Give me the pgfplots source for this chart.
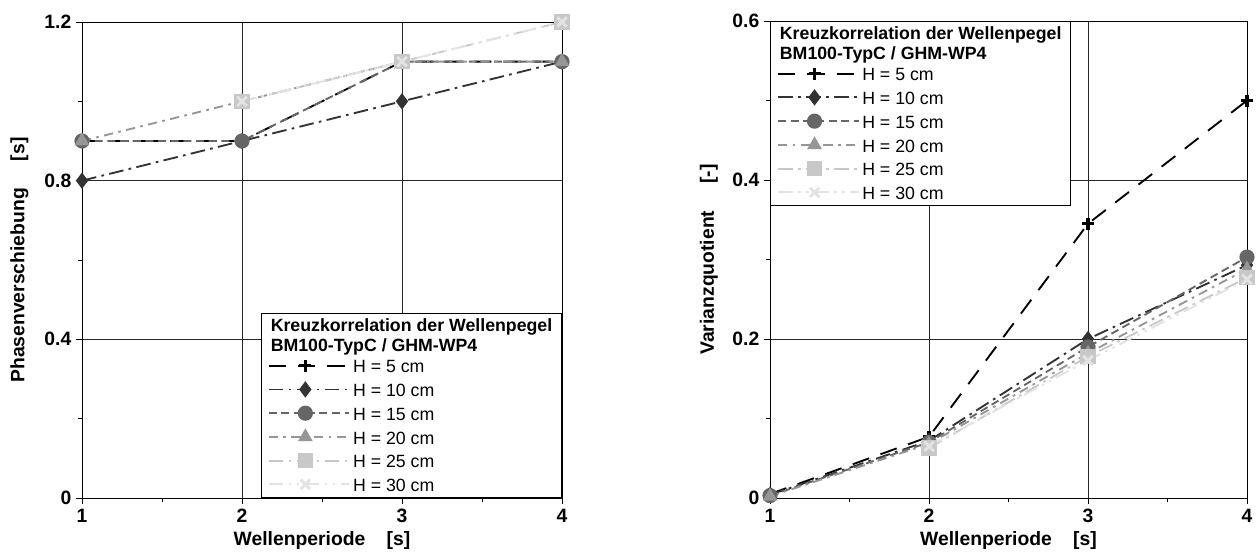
\documentclass[border=0pt]{standalone}
\usepackage{fontspec}
\setmainfont{Liberation Sans}
\usepackage{pgfplots}
\pgfplotsset{compat=1.18}
\definecolor{cA}{HTML}{000000}
\definecolor{cB}{HTML}{333333}
\definecolor{cC}{HTML}{666666}
\definecolor{cD}{HTML}{969696}
\definecolor{cE}{HTML}{C8C8C8}
\definecolor{cF}{HTML}{E3E3E3}
\newcommand\tickfont{\bfseries\fontsize{14.5}{17}\selectfont}
\newcommand\legfont{\fontsize{13.3}{16}\selectfont}
\pgfplotsset{
 myaxis/.style={
  scale only axis, anchor=south west, clip=false,
  xmin=1, xmax=4, xtick={1,2,3,4}, minor xtick={1.5,2.5,3.5},
  tick pos=left, tick align=outside,
  major tick length=4.5pt, minor tick length=3pt,
  every tick/.style={black, line width=0.6pt},
  axis line style={line width=0.6pt},
  xmajorgrids, ymajorgrids, major grid style={black!85, line width=0.6pt},
  /pgf/number format/assume math mode=true,
  ticklabel style={font=\tickfont},
  label style={font=\tickfont},
  xlabel={Wellenperiode\hspace{1.1em}[s]},
  legend cell align=left,
  legend image code/.code={\draw[mark repeat=2, mark phase=2] plot coordinates {(0pt,0pt) (27.4pt,0pt) (54.8pt,0pt)}; \path (0pt,0pt) -- (60.5pt,0pt);},
  legend style={font=\legfont, draw=black, line width=0.6pt, fill=white, inner xsep=5pt, inner ysep=1pt, row sep=0pt, nodes={inner sep=2pt, text height=12.3pt, text depth=1.5pt}},
 },
 s5/.style={color=cA, line width=1.4pt, dash pattern=on 13pt off 9pt, mark=+, mark size=4.5pt, mark options={solid, line width=2.4pt}},
 s10/.style={color=cB, line width=1.4pt, dash pattern=on 11pt off 4pt on 2pt off 4pt, mark=diamond*, mark size=5pt, mark options={solid, fill=cB}},
 s15/.style={color=cC, line width=1.4pt, dash pattern=on 6pt off 3.5pt, mark=*, mark size=5pt, mark options={solid, fill=cC}},
 s20/.style={color=cD, line width=1.4pt, dash pattern=on 7pt off 4pt on 2pt off 4pt, mark=triangle*, mark size=5pt, mark options={solid, fill=cD}},
 s25/.style={color=cE, line width=1.4pt, dash pattern=on 11pt off 4pt on 2pt off 4pt, mark=square*, mark size=5pt, mark options={solid, fill=cE}},
 s30/.style={color=cF, line width=1.4pt, dash pattern=on 11pt off 4pt on 2pt off 4pt on 2pt off 4pt, mark=x, mark size=5pt, mark options={solid, line width=2.2pt}},
}
\newcommand\legtitle{%
\addlegendimage{empty legend}\addlegendentry[text height=10.8pt, text depth=0.5pt]{\hspace*{-61.75pt}\textbf{Kreuzkorrelation der Wellenpegel}}
\addlegendimage{empty legend}\addlegendentry[text height=10pt, text depth=0pt]{\hspace*{-61.75pt}\textbf{BM100-TypC / GHM-WP4}}}
\begin{document}
\begin{tikzpicture}
\path[use as bounding box] (0,0) rectangle (942.75pt,417pt);
% left axis
\begin{axis}[myaxis, at={(61.5pt,43.5pt)}, width=360pt, height=357pt,
  ymin=0, ymax=1.2, ytick={0,0.4,0.8,1.2}, minor ytick={0.2,0.6,1.0},
  yticklabels={0,0.4,0.8,1.2},
  ylabel={Phasenverschiebung\hspace{1.4em}[s]}, ylabel shift=5pt,
  legend style={at={(1,0)}, anchor=south east}]
\legtitle
\addplot[s5] coordinates {(1,0.9)(2,0.9)(3,1.1)(4,1.1)};
\addlegendentry{H = 5 cm}
\addplot[s10] coordinates {(1,0.8)(2,0.9)(3,1.0)(4,1.1)};
\addlegendentry{H = 10 cm}
\addplot[s15] coordinates {(1,0.9)(2,0.9)(3,1.1)(4,1.1)};
\addlegendentry{H = 15 cm}
\addplot[s20] coordinates {(1,0.9)(2,1.0)(3,1.1)(4,1.1)};
\addlegendentry{H = 20 cm}
\addplot[s25] coordinates {(2,1.0)(3,1.1)(4,1.2)};
\addlegendentry{H = 25 cm}
\addplot[s30] coordinates {(2,1.0)(3,1.1)(4,1.2)};
\addlegendentry{H = 30 cm}
\end{axis}
% right axis
\begin{axis}[myaxis, at={(577.5pt,43.5pt)}, width=357.75pt, height=357.75pt,
  ymin=0, ymax=0.6, ytick={0,0.2,0.4,0.6}, minor ytick={0.1,0.3,0.5},
  yticklabels={0,0.2,0.4,0.6},
  ylabel={Varianzquotient\hspace{1.4em}[-]}, ylabel shift=4pt,
  legend style={at={(0,1)}, anchor=north west}]
\legtitle
\addplot[s5] coordinates {(1,0.005)(2,0.077)(3,0.345)(4,0.5)};
\addlegendentry{H = 5 cm}
\addplot[s10] coordinates {(1,0.004)(2,0.072)(3,0.2)(4,0.293)};
\addlegendentry{H = 10 cm}
\addplot[s15] coordinates {(1,0.003)(2,0.07)(3,0.19)(4,0.303)};
\addlegendentry{H = 15 cm}
\addplot[s20] coordinates {(1,0.002)(2,0.068)(3,0.182)(4,0.288)};
\addlegendentry{H = 20 cm}
\addplot[s25] coordinates {(2,0.063)(3,0.178)(4,0.277)};
\addlegendentry{H = 25 cm}
\addplot[s30] coordinates {(2,0.065)(3,0.173)(4,0.275)};
\addlegendentry{H = 30 cm}
\end{axis}
\end{tikzpicture}
\end{document}
